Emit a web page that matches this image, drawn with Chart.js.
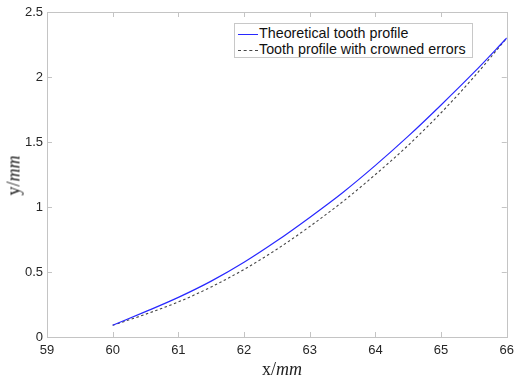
<!DOCTYPE html>
<html>
<head>
<meta charset="utf-8">
<script src="https://cdn.jsdelivr.net/npm/chart.js@4/dist/chart.umd.min.js"></script>
<style>
  body { margin: 0; background: #fff; }
  #wrap { position: relative; width: 520px; height: 382px; }
  #legend {
    position: absolute; left: 234px; top: 23px; width: 239px; height: 35px;
    border: 1px solid #c8c8c8; background: #fff; box-sizing: border-box;
    font: 14.3px "Liberation Sans", Arial, sans-serif; color: #111;
  }
  .row { position: absolute; left: 3px; height: 16px; line-height: 16px; white-space: nowrap; }
  .sw { display: inline-block; width: 20px; height: 0; vertical-align: middle; margin-right: 1px; }
  .xt, .yt { position: absolute; font: 18px "Liberation Serif", "Times New Roman", serif; color: #222; white-space: nowrap; }
  .xt { left: 262px; top: 359px; }
  .yt { left: -6px; top: 165px; transform: rotate(-90deg); }
</style>
</head>
<body>
<div id="wrap">
  <canvas id="c" width="520" height="382"></canvas>
  <div id="legend">
    <div class="row" style="top:1px"><span class="sw" style="border-top:1.2px solid rgb(40,40,255)"></span>Theoretical tooth profile</div>
    <div class="row" style="top:17px"><span class="sw" style="border-top:1px dashed #444"></span>Tooth profile with crowned errors</div>
  </div>
  <div class="xt">x/<i>mm</i></div>
  <div class="yt">y/<i>mm</i></div>
</div>
<script>
const xValues = [60, 60.5, 61, 61.5, 62, 62.5, 63, 63.5, 64, 64.5, 65, 65.5, 66];
const theoretical = [0.09, 0.195, 0.305, 0.43, 0.575, 0.74, 0.92, 1.11, 1.32, 1.545, 1.785, 2.035, 2.30];
const crowned = [0.09, 0.175, 0.27, 0.385, 0.52, 0.675, 0.85, 1.04, 1.25, 1.475, 1.725, 2.00, 2.30];
const xTicks = [59, 60, 61, 62, 63, 64, 65, 66];
const yTicks = [0, 0.5, 1, 1.5, 2, 2.5];

const toPoints = ys => xValues.map((x, i) => ({ x: x, y: ys[i] }));

// MATLAB-like box with inward ticks on all four sides
const boxPlugin = {
  id: 'box',
  afterDraw(chart) {
    const { ctx, chartArea: a, scales } = chart;
    ctx.save();
    ctx.strokeStyle = '#c4c4c4';
    ctx.lineWidth = 1;
    ctx.strokeRect(Math.round(a.left) + 0.5, Math.round(a.top) + 0.5, Math.round(a.right - a.left), Math.round(a.bottom - a.top));
    ctx.beginPath();
    xTicks.forEach(v => {
      const px = Math.round(scales.x.getPixelForValue(v)) + 0.5;
      ctx.moveTo(px, a.bottom); ctx.lineTo(px, a.bottom - 5);
      ctx.moveTo(px, a.top); ctx.lineTo(px, a.top + 5);
    });
    yTicks.forEach(v => {
      const py = Math.round(scales.y.getPixelForValue(v)) + 0.5;
      ctx.moveTo(a.left, py); ctx.lineTo(a.left + 5, py);
      ctx.moveTo(a.right, py); ctx.lineTo(a.right - 5, py);
    });
    ctx.stroke();
    ctx.restore();
  }
};

new Chart(document.getElementById('c'), {
  type: 'line',
  data: {
    datasets: [
      { label: 'Theoretical tooth profile', data: toPoints(theoretical), borderColor: 'rgb(40,40,255)', borderWidth: 1.2, pointRadius: 0, cubicInterpolationMode: 'monotone', fill: false },
      { label: 'Tooth profile with crowned errors', data: toPoints(crowned), borderColor: '#444', borderWidth: 1.1, borderDash: [2.5, 2.5], pointRadius: 0, cubicInterpolationMode: 'monotone', fill: false }
    ]
  },
  options: {
    responsive: false,
    animation: false,
    layout: { padding: { top: 12, right: 7, left: 0, bottom: 0 } },
    plugins: { legend: { display: false }, tooltip: { enabled: false } },
    scales: {
      x: {
        type: 'linear', min: 59, max: 66,
        afterBuildTicks: s => { s.ticks = xTicks.map(v => ({ value: v })); },
        afterFit: s => { s.height = 45; },
        grid: { display: false, drawTicks: false },
        border: { display: false },
        ticks: { padding: 6, color: '#262626', font: { family: 'Liberation Sans', size: 13 }, callback: v => String(v) }
      },
      y: {
        min: 0, max: 2.5,
        afterBuildTicks: s => { s.ticks = yTicks.map(v => ({ value: v })); },
        afterFit: s => { s.width = 47; },
        grid: { display: false, drawTicks: false },
        border: { display: false },
        ticks: { padding: 4, color: '#262626', font: { family: 'Liberation Sans', size: 13 }, callback: v => String(v) }
      }
    }
  },
  plugins: [boxPlugin]
});
</script>
</body>
</html>
